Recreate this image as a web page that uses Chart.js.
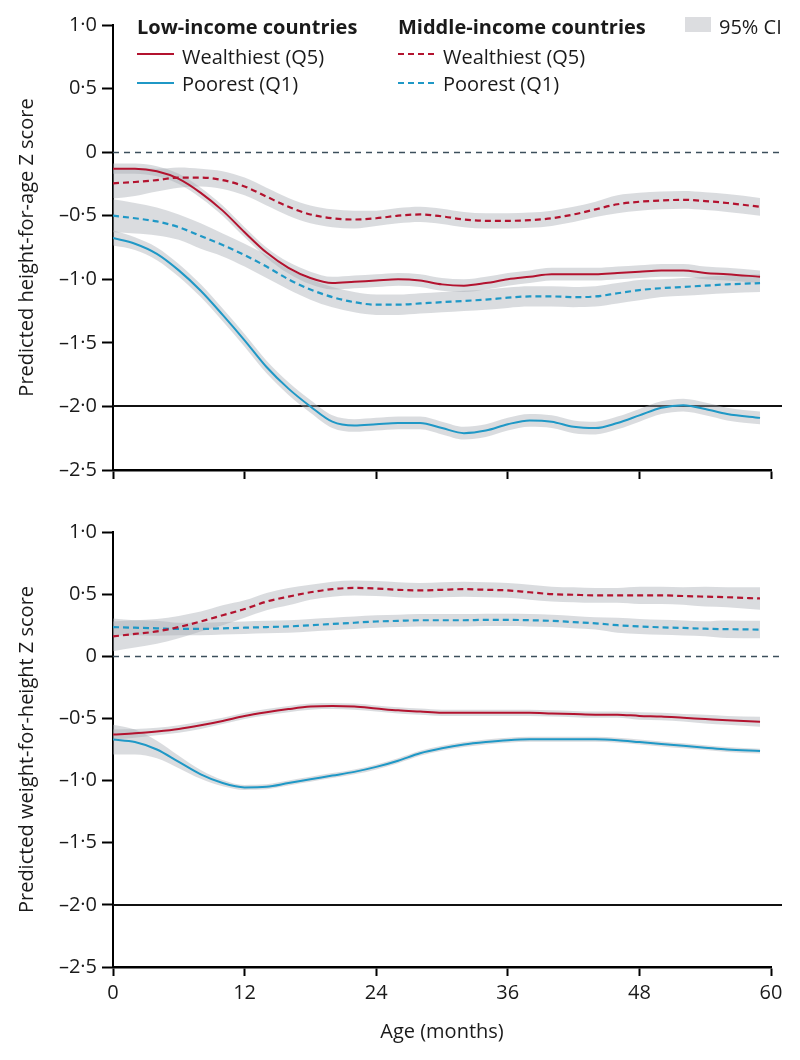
<!DOCTYPE html>
<html><head><meta charset="utf-8">
<script src="https://cdn.jsdelivr.net/npm/chart.js@4.4.1/dist/chart.umd.min.js"></script>
<style>
html,body{margin:0;padding:0;background:#fff;}
body{width:800px;height:1060px;position:relative;overflow:hidden;font-family:'Open Sans',sans-serif;color:#1a1a1a;}
#top{position:absolute;left:0;top:0;width:800px;height:490px;}
#bot{position:absolute;left:0;top:500px;width:800px;height:560px;}
.lg{position:absolute;font-size:20px;line-height:24px;white-space:nowrap;color:#1a1a1a;}
.hd{font-weight:700;}
svg.smp{position:absolute;overflow:visible;}
</style></head><body>
<div id="top"><canvas id="c1"></canvas></div>
<div id="bot"><canvas id="c2"></canvas></div>

<div class="lg hd" style="left:137px;top:15px;">Low-income countries</div>
<div class="lg" style="left:182px;top:45px;">Wealthiest (Q5)</div>
<div class="lg" style="left:182px;top:72px;">Poorest (Q1)</div>
<div class="lg hd" style="left:398px;top:15px;">Middle-income countries</div>
<div class="lg" style="left:443px;top:45px;">Wealthiest (Q5)</div>
<div class="lg" style="left:443px;top:72px;">Poorest (Q1)</div>
<div style="position:absolute;left:685px;top:17px;width:26px;height:15px;background:#dcdde0;"></div>
<div class="lg" style="left:719px;top:15px;">95% CI</div>
<svg class="smp" style="left:0;top:0;" width="800" height="100">
  <line x1="137" y1="54" x2="174" y2="54" stroke="#b3132f" stroke-width="2"/>
  <line x1="137" y1="83" x2="174" y2="83" stroke="#1f98c6" stroke-width="2"/>
  <line x1="398" y1="54" x2="437" y2="54" stroke="#b3132f" stroke-width="2" stroke-dasharray="6,4"/>
  <line x1="398" y1="83" x2="437" y2="83" stroke="#1f98c6" stroke-width="2" stroke-dasharray="6,4"/>
</svg>

<script>
// ---- data ----
const months = [0,2,4,6,8,10,12,14,16,18,20,22,24,26,28,30,32,34,36,38,40,42,44,46,48,50,52,54,56,59];
const xTicks = [0,12,24,36,48,60];
const yTickValues = [1.0,0.5,0,-0.5,-1.0,-1.5,-2.0,-2.5];
const yTickLabels = ['1·0','0·5','0','–0·5','–1·0','–1·5','–2·0','–2·5'];
const refZero = 0;
const refStunt = -2;

// Height-for-age Z score
const hazLowQ5 = [-0.13,-0.13,-0.15,-0.21,-0.32,-0.46,-0.63,-0.79,-0.91,-0.99,-1.03,-1.02,-1.01,-1.00,-1.01,-1.04,-1.05,-1.03,-1.00,-0.98,-0.96,-0.96,-0.96,-0.95,-0.94,-0.93,-0.93,-0.95,-0.96,-0.98];
const hazLowQ5CI = [0.04,0.04,0.04,0.04,0.04,0.04,0.04,0.04,0.045,0.05,0.05,0.05,0.05,0.05,0.05,0.05,0.05,0.05,0.05,0.05,0.05,0.05,0.05,0.05,0.05,0.05,0.05,0.05,0.05,0.05];
const hazLowQ1 = [-0.675,-0.72,-0.80,-0.93,-1.09,-1.28,-1.48,-1.69,-1.86,-2.00,-2.12,-2.15,-2.14,-2.13,-2.13,-2.17,-2.21,-2.19,-2.14,-2.11,-2.12,-2.16,-2.17,-2.13,-2.07,-2.01,-1.99,-2.02,-2.06,-2.09];
const hazLowQ1CI = [0.06,0.05,0.05,0.05,0.05,0.05,0.05,0.05,0.05,0.05,0.05,0.05,0.05,0.05,0.05,0.05,0.05,0.05,0.05,0.05,0.05,0.05,0.05,0.05,0.05,0.05,0.05,0.05,0.05,0.05];
const hazMidQ5 = [-0.245,-0.235,-0.22,-0.20,-0.20,-0.22,-0.27,-0.35,-0.43,-0.49,-0.52,-0.53,-0.52,-0.50,-0.49,-0.505,-0.53,-0.54,-0.54,-0.535,-0.52,-0.49,-0.45,-0.41,-0.39,-0.38,-0.375,-0.385,-0.40,-0.43];
const hazMidQ5CI = [0.12,0.11,0.09,0.08,0.07,0.07,0.07,0.07,0.07,0.07,0.07,0.07,0.06,0.06,0.06,0.06,0.06,0.06,0.06,0.06,0.06,0.06,0.06,0.07,0.07,0.07,0.07,0.07,0.07,0.07];
const hazMidQ1 = [-0.50,-0.52,-0.545,-0.59,-0.66,-0.73,-0.81,-0.90,-1.00,-1.08,-1.14,-1.18,-1.20,-1.20,-1.19,-1.18,-1.17,-1.16,-1.145,-1.135,-1.135,-1.14,-1.135,-1.11,-1.085,-1.07,-1.06,-1.05,-1.04,-1.03];
const hazMidQ1CI = [0.13,0.12,0.11,0.10,0.10,0.09,0.09,0.09,0.08,0.08,0.08,0.08,0.08,0.08,0.08,0.08,0.08,0.08,0.08,0.08,0.08,0.08,0.08,0.08,0.08,0.07,0.07,0.07,0.07,0.07];

// Weight-for-height Z score
const whzLowQ5 = [-0.63,-0.62,-0.605,-0.585,-0.555,-0.52,-0.48,-0.45,-0.425,-0.405,-0.40,-0.405,-0.42,-0.435,-0.445,-0.455,-0.455,-0.455,-0.455,-0.455,-0.46,-0.465,-0.47,-0.47,-0.48,-0.485,-0.495,-0.505,-0.515,-0.527];
const whzLowQ5CI = [0.04,0.035,0.03,0.03,0.03,0.025,0.025,0.025,0.025,0.025,0.025,0.025,0.025,0.025,0.025,0.025,0.025,0.025,0.025,0.025,0.025,0.025,0.025,0.025,0.03,0.03,0.03,0.035,0.035,0.04];
const whzLowQ1 = [-0.67,-0.69,-0.75,-0.85,-0.95,-1.02,-1.055,-1.05,-1.02,-0.99,-0.96,-0.93,-0.89,-0.84,-0.78,-0.74,-0.71,-0.69,-0.675,-0.668,-0.668,-0.668,-0.668,-0.675,-0.69,-0.705,-0.72,-0.735,-0.75,-0.763];
const whzLowQ1CI = [0.12,0.10,0.07,0.05,0.035,0.025,0.02,0.02,0.02,0.02,0.02,0.02,0.02,0.02,0.02,0.02,0.02,0.02,0.02,0.02,0.02,0.02,0.02,0.02,0.02,0.02,0.02,0.02,0.02,0.02];
const whzMidQ5 = [0.16,0.18,0.20,0.235,0.28,0.33,0.38,0.44,0.48,0.515,0.54,0.55,0.545,0.535,0.53,0.535,0.54,0.535,0.53,0.515,0.50,0.495,0.49,0.49,0.49,0.49,0.485,0.48,0.475,0.465];
const whzMidQ5CI = [0.12,0.11,0.10,0.09,0.08,0.08,0.07,0.07,0.07,0.06,0.06,0.06,0.06,0.06,0.06,0.06,0.06,0.06,0.06,0.06,0.06,0.06,0.06,0.06,0.07,0.07,0.07,0.08,0.08,0.09];
const whzMidQ1 = [0.235,0.23,0.225,0.22,0.22,0.225,0.23,0.235,0.24,0.25,0.26,0.27,0.28,0.285,0.29,0.29,0.29,0.293,0.293,0.29,0.285,0.275,0.265,0.25,0.24,0.233,0.228,0.222,0.218,0.215];
const whzMidQ1CI = [0.07,0.06,0.06,0.05,0.05,0.05,0.05,0.05,0.05,0.05,0.05,0.05,0.05,0.05,0.05,0.05,0.05,0.05,0.05,0.05,0.05,0.05,0.05,0.06,0.06,0.06,0.06,0.06,0.07,0.07];

// ---- styling ----
const FONT = "'Open Sans', sans-serif";
const RED = '#b3132f', BLUE = '#1f98c6', BAND = 'rgba(168,171,178,0.42)';

function pts(vals, ci, sign){ return months.map((m,i)=>({x:m, y: vals[i] + sign*(ci?ci[i]:0)})); }

function seriesSets(vals, ci, color, dashed){
  return [
    {data: pts(vals,null,0), borderColor: color, borderWidth: dashed?2.2:2, borderDash: dashed?[6,4]:[],
     pointRadius:0, fill:false, cubicInterpolationMode:'monotone', order:0},
    {data: pts(vals,ci,1), borderWidth:0, pointRadius:0, backgroundColor: BAND, fill:'+1', cubicInterpolationMode:'monotone', order:1},
    {data: pts(vals,ci,-1), borderWidth:0, pointRadius:0, fill:false, cubicInterpolationMode:'monotone', order:1}
  ];
}

const refLines = {
  id:'refLines',
  beforeDatasetsDraw(chart){
    const {ctx, chartArea:a, scales:{y}} = chart;
    const right = a.right + 11;
    ctx.save();
    let py = Math.round(y.getPixelForValue(refZero)) + 0.5;
    ctx.strokeStyle = '#3c4f5c'; ctx.lineWidth = 1.6; ctx.setLineDash([6,5]);
    ctx.beginPath(); ctx.moveTo(a.left, py); ctx.lineTo(right, py); ctx.stroke();
    ctx.setLineDash([]);
    py = Math.round(y.getPixelForValue(refStunt));
    ctx.strokeStyle = '#111'; ctx.lineWidth = 2;
    ctx.beginPath(); ctx.moveTo(a.left, py); ctx.lineTo(right, py); ctx.stroke();
    ctx.restore();
  }
};

function yScale(title){
  return {
    type:'linear', min:-2.5, max:1.0,
    afterFit(s){ s.width = 113; },
    afterBuildTicks(s){ s.ticks = yTickValues.map(v=>({value:v})); },
    ticks:{ padding:5, color:'#1a1a1a', font:{family:FONT, size:20}, callback:(v)=>{ const i = yTickValues.findIndex(t=>Math.abs(t-v)<1e-9); return i>=0?yTickLabels[i]:''; } },
    grid:{ drawOnChartArea:false, drawTicks:true, tickLength:11, tickWidth:2, tickColor:'#000' },
    border:{ display:true, color:'#000', width:2 },
    title:{ display:true, text:title, color:'#1a1a1a', font:{family:FONT, size:20}, padding:{top:15,bottom:0} }
  };
}

function xScale(showLabels, height){
  return {
    type:'linear', min:0, max:60,
    afterFit(s){ s.height = height; },
    afterBuildTicks(s){ s.ticks = xTicks.map(v=>({value:v})); },
    ticks:{ display:showLabels, padding:5, color:'#1a1a1a', font:{family:FONT, size:20}, maxRotation:0 },
    grid:{ drawOnChartArea:false, drawTicks:true, tickLength:9, tickWidth:2, tickColor:'#000' },
    border:{ display:true, color:'#000', width:2.5 },
    title:{ display:showLabels, text:'Age (months)', color:'#1a1a1a', font:{family:FONT, size:20}, padding:{top:0,bottom:16} }
  };
}

function makeChart(id, sets, yTitle, showX, xh, pad){
  return new Chart(document.getElementById(id), {
    type:'line',
    data:{ datasets: sets },
    options:{
      responsive:true, maintainAspectRatio:false, animation:false,
      layout:{ padding: pad },
      plugins:{ legend:{display:false}, tooltip:{enabled:false} },
      scales:{ x: xScale(showX, xh), y: yScale(yTitle) }
    },
    plugins:[refLines]
  });
}

makeChart('c1', [
  ...seriesSets(hazLowQ5, hazLowQ5CI, RED, false),
  ...seriesSets(hazLowQ1, hazLowQ1CI, BLUE, false),
  ...seriesSets(hazMidQ5, hazMidQ5CI, RED, true),
  ...seriesSets(hazMidQ1, hazMidQ1CI, BLUE, true)
], 'Predicted height-for-age Z score', false, 20, {top:25, right:29, bottom:0, left:0});

makeChart('c2', [
  ...seriesSets(whzLowQ5, whzLowQ5CI, RED, false),
  ...seriesSets(whzLowQ1, whzLowQ1CI, BLUE, false),
  ...seriesSets(whzMidQ5, whzMidQ5CI, RED, true),
  ...seriesSets(whzMidQ1, whzMidQ1CI, BLUE, true)
], 'Predicted weight-for-height Z score', true, 93, {top:32, right:29, bottom:0, left:0});
</script>
</body></html>
